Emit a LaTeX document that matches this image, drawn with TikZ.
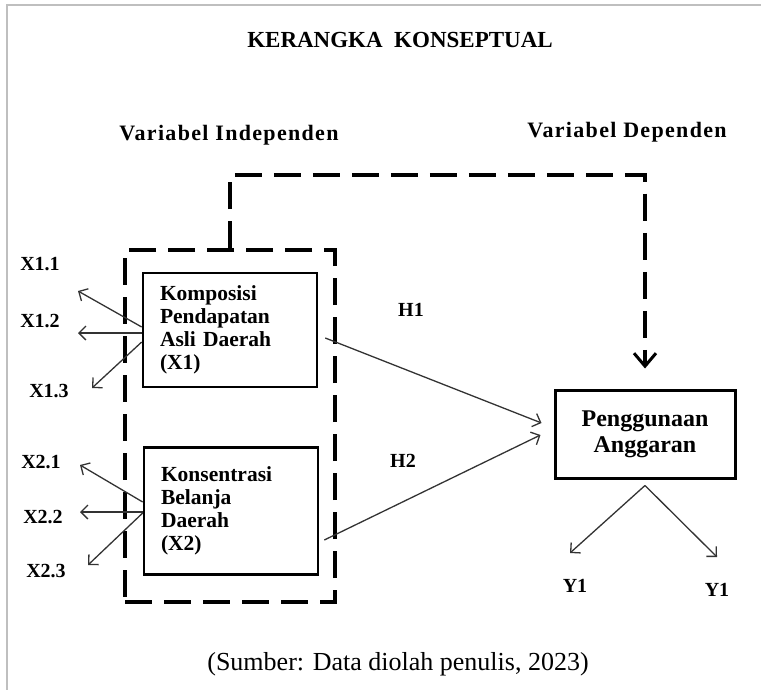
\documentclass[tikz,border=0pt]{standalone}
\usepackage{fontspec}
\setmainfont{Liberation Serif}
\newfontfamily\spacedserif[LetterSpace=6]{Liberation Serif}
\usetikzlibrary{arrows.meta,positioning,calc}
\tikzset{
varbox/.style={draw,line width=2.6pt,text width=140pt,inner xsep=17pt,align=left,font=\bfseries\fontsize{21.5}{23}\selectfont},
resultbox/.style={draw,line width=3pt,minimum width=180pt,minimum height=88pt,align=center,font=\bfseries\fontsize{24}{26}\selectfont},
groupbox/.style={draw,line width=3.5pt,dash pattern=on 27pt off 12pt,minimum width=210pt,minimum height=352pt},
heading/.style={font=\spacedserif\bfseries\fontsize{22}{26}\selectfont},
indicator/.style={font=\bfseries\fontsize{20}{22}\selectfont},
link/.style={-{Straight Barb[length=7pt,width=14pt]},line width=1.3pt,draw=black!80},
moderate/.style={-{Straight Barb[length=13pt,width=22pt,line width=3pt]},line width=3.5pt,dash pattern=on 27pt off 12pt},
frameline/.style={draw=black!25,line width=1.5pt}
}
\begin{document}
\begin{tikzpicture}[x=1pt,y=-1pt]
\useasboundingbox (0,0) rectangle (761,690);
\draw[frameline] (7,690) -- (7,5) -- (761,5);
% titles
\node[font=\bfseries\fontsize{23}{26}\selectfont](title) at (400,40){KERANGKA\ \ KONSEPTUAL};
\node[heading](indeplabel) at (229,135){Variabel Independen};
\node[heading](deplabel) at (627,132){Variabel Dependen};
% variables
\node[groupbox](indep) at (230,426){};
\node[varbox,minimum height=114pt](x1) at (230,330){Komposisi\\Pendapatan\\Asli Daerah\\(X1)};
\node[varbox,minimum height=127pt](x2) at (231,511){Konsentrasi\\Belanja\\Daerah\\(X2)};
\node[resultbox](y) at (645,434){Penggunaan\\Anggaran};
% indicators
\node[indicator](x11) at (40,264){X1.1};
\node[indicator](x12) at (40,321){X1.2};
\node[indicator](x13) at (49,391){X1.3};
\node[indicator](x21) at (41,462){X2.1};
\node[indicator](x22) at (43,517){X2.2};
\node[indicator](x23) at (46,571){X2.3};
\node[indicator](y1a) at (575,586){Y1};
\node[indicator](y1b) at (717,590){Y1};
\node[indicator](h1) at (411,310){H1};
\node[indicator](h2) at (403,461){H2};
\coordinate(x11end) at (78,291);\coordinate(x12end) at (78,333);\coordinate(x13end) at (92,388);
\coordinate(x21end) at (80,465);\coordinate(x22end) at (80,512);\coordinate(x23end) at (88,565);
\coordinate(y1aend) at (570,553);\coordinate(y1bend) at (717,557);
\coordinate(bend) at (230,175);
% connectors
\draw[link]([yshift=3pt]x1.west)--(x11end);\draw[link]([yshift=-3pt]x1.west)--(x12end);\draw[link]([yshift=-12pt]x1.west)--(x13end);
\draw[link]([yshift=9pt]x2.west)--(x21end);\draw[link]([yshift=-1pt]x2.west)--(x22end);\draw[link]([yshift=-2pt]x2.west)--(x23end);
\draw[link]([xshift=7pt,yshift=-8pt]x1.east)--([xshift=-12pt,yshift=11pt]y.west);
\draw[link]([xshift=5pt,yshift=-29pt]x2.east)--([xshift=-13pt,yshift=-1pt]y.west);
\draw[link]([yshift=-6pt]y.south)--(y1aend);\draw[link]([yshift=-6pt]y.south)--(y1bend);
\draw[moderate](indep.north)--(bend)-|([yshift=20pt]y.north);
\node[font=\fontsize{26}{30}\selectfont](source) at (398,664){(Sumber: Data diolah penulis, 2023)};
\end{tikzpicture}
\end{document}
